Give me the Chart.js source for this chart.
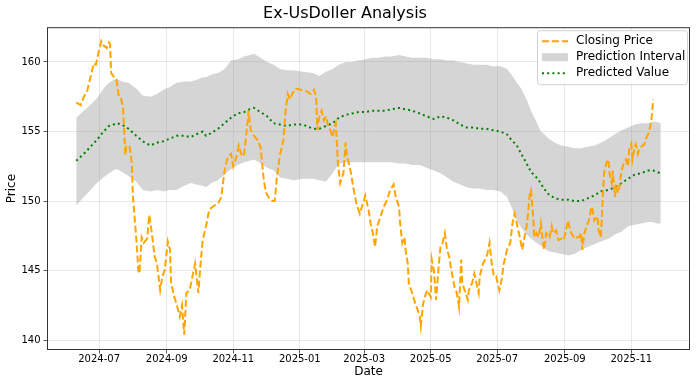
<!DOCTYPE html>
<html>
<head>
<meta charset="utf-8">
<script src="https://cdn.jsdelivr.net/npm/chart.js@4.4.1/dist/chart.umd.min.js"></script>
<style>
  html, body { margin: 0; padding: 0; background: #fff; }
  #wrap { width: 700px; height: 383px; }
</style>
</head>
<body>
<div id="wrap"><canvas id="chart" width="700" height="383"></canvas></div>
<script>
// closing price
const closeDates = [
  '2024-06-10','2024-06-14','2024-06-17','2024-06-20','2024-06-24','2024-06-26','2024-06-28','2024-07-01',
  '2024-07-03','2024-07-05','2024-07-08','2024-07-10','2024-07-11','2024-07-12','2024-07-17','2024-07-19',
  '2024-07-21','2024-07-23','2024-07-25','2024-07-26','2024-07-29','2024-07-31','2024-08-01','2024-08-04',
  '2024-08-06','2024-08-07','2024-08-09','2024-08-11','2024-08-14','2024-08-16','2024-08-18','2024-08-21',
  '2024-08-23','2024-08-26','2024-08-28','2024-08-30','2024-09-02','2024-09-04','2024-09-05','2024-09-08',
  '2024-09-10','2024-09-13','2024-09-15','2024-09-17','2024-09-19','2024-09-22','2024-09-27','2024-09-30',
  '2024-10-02','2024-10-04','2024-10-07','2024-10-10','2024-10-15','2024-10-18','2024-10-21','2024-10-24',
  '2024-10-27','2024-10-30','2024-11-01','2024-11-04','2024-11-06','2024-11-09','2024-11-11','2024-11-14',
  '2024-11-15','2024-11-17','2024-11-20','2024-11-23','2024-11-26','2024-11-29','2024-12-01','2024-12-04',
  '2024-12-07','2024-12-09','2024-12-11','2024-12-14','2024-12-17','2024-12-19','2024-12-21','2024-12-23',
  '2024-12-25','2024-12-28','2025-01-02','2025-01-07','2025-01-11','2025-01-14','2025-01-16','2025-01-17',
  '2025-01-19','2025-01-21','2025-01-23','2025-01-25','2025-01-27','2025-01-29','2025-01-31','2025-02-02',
  '2025-02-03','2025-02-05','2025-02-07','2025-02-10','2025-02-12','2025-02-13','2025-02-15','2025-02-17',
  '2025-02-19','2025-02-22','2025-02-25','2025-03-01','2025-03-02','2025-03-05','2025-03-07','2025-03-09',
  '2025-03-11','2025-03-13','2025-03-16','2025-03-19','2025-03-22','2025-03-25','2025-03-28','2025-03-30',
  '2025-04-02','2025-04-03','2025-04-05','2025-04-07','2025-04-08','2025-04-10','2025-04-11','2025-04-14',
  '2025-04-17','2025-04-19','2025-04-21','2025-04-22','2025-04-24','2025-04-26','2025-04-28','2025-05-01',
  '2025-05-02','2025-05-04','2025-05-06','2025-05-08','2025-05-10','2025-05-12','2025-05-14','2025-05-16',
  '2025-05-18','2025-05-20','2025-05-23','2025-05-25','2025-05-27','2025-05-29','2025-05-30','2025-06-02',
  '2025-06-04','2025-06-05','2025-06-08','2025-06-10','2025-06-12','2025-06-14','2025-06-15','2025-06-18',
  '2025-06-20','2025-06-22','2025-06-24','2025-06-26','2025-06-28','2025-06-30','2025-07-03','2025-07-05',
  '2025-07-07','2025-07-10','2025-07-13','2025-07-15','2025-07-17','2025-07-22','2025-07-24','2025-07-26',
  '2025-07-28','2025-07-29','2025-07-31','2025-08-01','2025-08-03','2025-08-04','2025-08-06','2025-08-08',
  '2025-08-10','2025-08-12','2025-08-13','2025-08-15','2025-08-18','2025-08-20','2025-08-21','2025-08-24',
  '2025-08-26','2025-08-29','2025-08-31','2025-09-02','2025-09-04','2025-09-05','2025-09-07','2025-09-10',
  '2025-09-12','2025-09-14','2025-09-16','2025-09-17','2025-09-19','2025-09-21','2025-09-23','2025-09-25',
  '2025-09-26','2025-09-28','2025-10-01','2025-10-02','2025-10-04','2025-10-05','2025-10-06','2025-10-07',
  '2025-10-09','2025-10-11','2025-10-12','2025-10-14','2025-10-15','2025-10-17','2025-10-18','2025-10-20',
  '2025-10-21','2025-10-23','2025-10-25','2025-10-27','2025-10-29','2025-10-30','2025-11-01','2025-11-02',
  '2025-11-04','2025-11-05','2025-11-07','2025-11-08','2025-11-10','2025-11-13','2025-11-15','2025-11-17',
  '2025-11-19','2025-11-20','2025-11-21'
];
const closeValues = [
  157.1,156.9,157.5,157.9,159.2,159.9,159.8,160.9,
  161.5,161.2,161.0,161.4,161.3,159.2,158.7,157.5,
  157.4,156.7,153.3,154.0,153.9,152.7,150.3,147.4,
  145.0,144.8,147.4,147.0,147.3,149.0,147.9,146.0,
  145.5,143.6,144.6,145.0,147.1,146.5,144.1,143.1,
  142.6,141.7,142.5,140.4,143.4,143.6,145.5,143.4,
  145.5,147.2,148.2,149.4,149.7,149.8,150.3,152.2,
  153.2,153.4,152.5,153.2,154.0,153.2,153.4,155.6,
  156.5,155.1,154.7,154.4,153.9,151.5,150.6,150.2,
  150.0,150.0,151.7,153.4,154.4,156.5,157.7,157.3,
  157.7,158.1,158.0,157.9,157.7,158.0,157.5,155.1,
  156.1,156.5,155.8,156.1,155.4,155.1,154.6,155.4,
  155.6,152.7,151.3,152.0,154.2,153.4,152.7,152.0,
  151.0,149.8,149.1,150.1,150.4,149.4,148.4,147.7,
  146.7,148.2,148.9,149.6,150.1,150.8,151.2,150.3,
  149.6,148.4,147.0,147.4,146.5,145.5,144.1,143.4,
  142.6,142.2,141.7,141.0,142.6,143.2,143.6,143.1,
  145.8,145.0,142.9,145.0,146.7,147.0,147.7,146.5,
  146.0,145.0,143.8,143.4,142.4,145.8,144.1,143.4,
  142.9,143.6,144.1,144.8,144.1,143.4,144.6,145.5,
  145.8,146.2,147.0,145.5,144.6,144.6,143.6,144.3,
  145.5,146.5,147.0,148.4,149.1,147.3,146.5,147.4,
  148.2,148.9,150.6,150.8,148.9,147.4,147.7,147.4,
  148.4,147.0,146.5,147.7,147.4,148.2,147.7,147.9,
  147.2,147.3,147.2,147.9,148.6,148.2,147.7,147.3,
  147.4,147.4,147.7,146.5,147.7,148.2,148.6,149.4,
  149.6,148.6,148.9,147.9,147.4,148.9,150.6,152.0,
  152.7,153.0,152.0,151.3,152.2,150.3,151.0,150.6,
  151.0,152.2,152.7,153.0,152.5,153.7,154.1,153.0,
  153.9,154.1,153.4,153.7,153.9,154.1,154.6,154.9,
  155.6,156.3,157.3
];

// model output: predicted value and interval bounds share the same dates
const predDates = [
  '2024-06-10','2024-06-17','2024-06-23','2024-06-29','2024-07-05','2024-07-10','2024-07-14','2024-07-17',
  '2024-07-22','2024-07-28','2024-08-04','2024-08-10','2024-08-17','2024-08-23','2024-08-29','2024-09-04',
  '2024-09-10','2024-09-17','2024-09-23','2024-09-28','2024-10-04','2024-10-07','2024-10-12','2024-10-18',
  '2024-10-24','2024-10-30','2024-11-05','2024-11-11','2024-11-16','2024-11-20','2024-11-26','2024-12-02',
  '2024-12-08','2024-12-14','2024-12-20','2024-12-26','2025-01-04','2025-01-13','2025-01-19','2025-01-25',
  '2025-01-31','2025-02-06','2025-02-12','2025-02-18','2025-02-24','2025-03-02','2025-03-08','2025-03-14',
  '2025-03-20','2025-03-26','2025-04-02','2025-04-08','2025-04-14','2025-04-21','2025-04-27','2025-05-04',
  '2025-05-10','2025-05-16','2025-05-22','2025-05-28','2025-06-03','2025-06-09','2025-06-15','2025-06-21',
  '2025-06-27','2025-07-04','2025-07-10','2025-07-14','2025-07-19','2025-07-23','2025-07-28','2025-08-01',
  '2025-08-06','2025-08-10','2025-08-12','2025-08-17','2025-08-23','2025-08-29','2025-09-04','2025-09-10',
  '2025-09-16','2025-09-22','2025-09-28','2025-10-04','2025-10-11','2025-10-17','2025-10-23','2025-10-29',
  '2025-11-04','2025-11-10','2025-11-16','2025-11-21','2025-11-24','2025-11-28'
];
const predValues = [
  152.9,153.4,153.9,154.4,155.0,155.4,155.5,155.6,
  155.5,155.2,154.7,154.3,154.0,154.2,154.3,154.5,
  154.7,154.7,154.6,154.8,155.0,154.7,154.9,155.2,
  155.6,156.0,156.3,156.4,156.6,156.7,156.4,156.1,
  155.6,155.5,155.4,155.5,155.5,155.2,155.2,155.4,
  155.6,156.0,156.2,156.3,156.4,156.4,156.5,156.5,
  156.5,156.6,156.7,156.6,156.5,156.3,156.1,155.9,
  156.1,156.0,155.8,155.5,155.3,155.3,155.2,155.2,
  155.1,155.0,154.8,154.4,154.0,153.4,152.7,152.1,
  151.7,151.3,151.0,150.5,150.2,150.1,150.1,150.0,
  150.0,150.2,150.4,150.7,150.8,151.0,151.3,151.6,
  151.9,152.0,152.2,152.2,152.1,152.0
];
const upperValues = [
  156.0,156.5,156.9,157.4,158.1,158.5,158.7,158.8,
  158.6,158.5,158.1,157.6,157.5,157.7,158.0,158.2,
  158.5,158.6,158.6,158.7,158.9,158.9,159.1,159.2,
  159.5,160.1,160.2,160.4,160.5,160.6,160.3,160.0,
  159.8,159.5,159.4,159.4,159.3,159.2,159.0,159.3,
  159.5,159.8,160.0,160.0,160.1,160.2,160.3,160.3,
  160.4,160.4,160.5,160.4,160.3,160.3,160.3,160.2,
  160.2,160.1,160.1,160.0,159.9,159.8,159.8,159.8,
  159.7,159.7,159.5,159.1,158.5,158.1,157.3,156.5,
  155.7,155.0,154.9,154.5,154.2,154.0,153.9,153.8,
  153.8,153.9,154.0,154.2,154.5,154.8,155.1,155.3,
  155.5,155.6,155.6,155.7,155.7,155.6
];
const lowerValues = [
  149.7,150.3,150.8,151.3,151.7,152.0,152.2,152.3,
  152.1,151.8,151.4,150.8,150.7,150.8,150.7,150.8,
  150.8,151.1,151.3,151.2,151.1,151.0,151.3,151.5,
  151.9,152.3,152.6,152.8,152.9,153.0,152.7,152.4,
  152.2,151.7,151.6,151.5,151.6,151.6,151.5,151.4,
  152.0,152.7,152.8,152.8,152.8,152.8,152.8,152.8,
  152.8,152.8,152.7,152.7,152.6,152.6,152.4,152.2,
  152.0,151.7,151.4,151.2,151.0,150.9,150.9,150.8,
  150.8,150.7,150.3,149.6,148.6,148.1,147.6,147.3,
  147.0,146.8,146.7,146.4,146.3,146.2,146.1,146.2,
  146.5,146.7,146.9,147.1,147.3,147.6,147.8,148.2,
  148.3,148.4,148.5,148.5,148.4,148.4
];

const tickDates = ['2024-07-01','2024-09-01','2024-11-01','2025-01-01','2025-03-01','2025-05-01','2025-07-01','2025-09-01','2025-11-01'];
const tickLabels = ['2024-07','2024-09','2024-11','2025-01','2025-03','2025-05','2025-07','2025-09','2025-11'];
const yTickValues = [140, 145, 150, 155, 160];

function dayOf(s) {
  const p = s.split('-').map(Number);
  return Date.UTC(p[0], p[1] - 1, p[2]) / 86400000;
}
function pts(dates, values) {
  return dates.map((d, i) => ({ x: dayOf(d), y: values[i] }));
}

// matplotlib style 5% margin around the data range
const firstDay = dayOf(predDates[0]);
const lastDay = dayOf(predDates[predDates.length - 1]);
const span = lastDay - firstDay;

Chart.defaults.font.family = '"DejaVu Sans", sans-serif';
Chart.defaults.color = '#000';

// frame on all four sides
const frame = {
  id: 'frame',
  afterDatasetsDraw(chart) {
    const { ctx, chartArea: a } = chart;
    ctx.save();
    ctx.strokeStyle = '#333';
    ctx.lineWidth = 1;
    ctx.strokeRect(a.left + 0.5, a.top + 0.5, a.right - a.left - 1, a.bottom - a.top - 1);
    ctx.restore();
  }
};

// legend drawn inside the plot, upper right
const innerLegend = {
  id: 'innerLegend',
  afterDraw(chart) {
    const { ctx, chartArea: a } = chart;
    const ds = chart.data.datasets;
    const w = 150, h = 54;
    const x = a.right - w - 3, y = a.top + 3;
    ctx.save();
    ctx.beginPath();
    ctx.roundRect(x + 0.5, y + 0.5, w, h, 3);
    ctx.fillStyle = 'rgba(255,255,255,0.85)';
    ctx.fill();
    ctx.strokeStyle = '#d0d0d0';
    ctx.lineWidth = 1;
    ctx.stroke();

    ctx.font = '12px "DejaVu Sans"';
    ctx.textBaseline = 'middle';
    ctx.fillStyle = '#000';
    const rows = [y + 11, y + 27, y + 43];
    const lx = x + 5, lw = 26, tx = x + 39;

    // closing
    ctx.beginPath();
    ctx.setLineDash(ds[0].borderDash);
    ctx.strokeStyle = ds[0].borderColor;
    ctx.lineWidth = ds[0].borderWidth;
    ctx.moveTo(lx, rows[0]); ctx.lineTo(lx + lw, rows[0]);
    ctx.stroke();
    ctx.fillText(ds[0].label, tx, rows[0]);

    // interval
    ctx.setLineDash([]);
    ctx.fillStyle = ds[2].backgroundColor;
    ctx.fillRect(lx, rows[1] - 4, lw, 8);
    ctx.fillStyle = '#000';
    ctx.fillText(ds[2].label, tx, rows[1]);

    // predicted
    ctx.beginPath();
    ctx.setLineDash(ds[3].borderDash);
    ctx.strokeStyle = ds[3].borderColor;
    ctx.lineWidth = ds[3].borderWidth;
    ctx.moveTo(lx, rows[2]); ctx.lineTo(lx + lw, rows[2]);
    ctx.stroke();
    ctx.fillText(ds[3].label, tx, rows[2]);
    ctx.restore();
  }
};

new Chart(document.getElementById('chart').getContext('2d'), {
  type: 'line',
  data: {
    datasets: [
      {
        label: 'Closing Price',
        data: pts(closeDates, closeValues),
        borderColor: '#FFA500',
        borderWidth: 2,
        borderDash: [7, 3],
        pointRadius: 0,
        fill: false,
        order: 1,
      },
      {
        label: 'upper',
        data: pts(predDates, upperValues),
        borderWidth: 0,
        borderColor: 'rgba(0,0,0,0)',
        pointRadius: 0,
        fill: false,
        order: 3,
      },
      {
        label: 'Prediction Interval',
        data: pts(predDates, lowerValues),
        borderWidth: 0,
        borderColor: 'rgba(0,0,0,0)',
        backgroundColor: 'rgba(150,150,150,0.4)',
        pointRadius: 0,
        fill: '-1',
        order: 3,
      },
      {
        label: 'Predicted Value',
        data: pts(predDates, predValues),
        borderColor: '#008000',
        borderWidth: 2,
        borderDash: [2, 3.2],
        borderCapStyle: 'butt',
        pointRadius: 0,
        fill: false,
        order: 2,
      },
    ],
  },
  options: {
    responsive: false,
    animation: false,
    devicePixelRatio: 1,
    layout: { padding: { left: 0, right: 10, top: 0, bottom: 0 } },
    plugins: {
      legend: { display: false },
      tooltip: { enabled: false },
      title: {
        display: true,
        text: 'Ex-UsDoller Analysis',
        font: { size: 16, weight: 'normal' },
        color: '#000',
        padding: { top: 4, bottom: 4 },
      },
    },
    scales: {
      x: {
        type: 'linear',
        min: firstDay - span * 0.05,
        max: lastDay + span * 0.05,
        afterBuildTicks(scale) {
          scale.ticks = tickDates.map(d => ({ value: dayOf(d) }));
        },
        afterFit(scale) { scale.height = 33; },
        ticks: {
          callback: (value, index) => tickLabels[index],
          font: { size: 10 },
          color: '#000',
          padding: 0,
          maxRotation: 0,
          autoSkip: false,
        },
        grid: { color: 'rgba(176,176,176,0.35)', lineWidth: 0.8, tickColor: '#333', tickLength: 3.5 },
        border: { display: false },
        title: { display: true, text: 'Date', font: { size: 12 }, color: '#000', padding: { top: 0, bottom: 4 } },
      },
      y: {
        min: 139.3,
        max: 162.5,
        afterBuildTicks(scale) {
          scale.ticks = yTickValues.map(v => ({ value: v }));
        },
        afterFit(scale) { scale.width = 47; },
        ticks: { font: { size: 10 }, color: '#000', padding: 3 },
        grid: { color: 'rgba(176,176,176,0.35)', lineWidth: 0.8, tickColor: '#333', tickLength: 3.5 },
        border: { display: false },
        title: { display: true, text: 'Price', font: { size: 12 }, color: '#000', padding: { top: 5, bottom: 0 } },
      },
    },
  },
  plugins: [frame, innerLegend],
});
</script>
</body>
</html>
